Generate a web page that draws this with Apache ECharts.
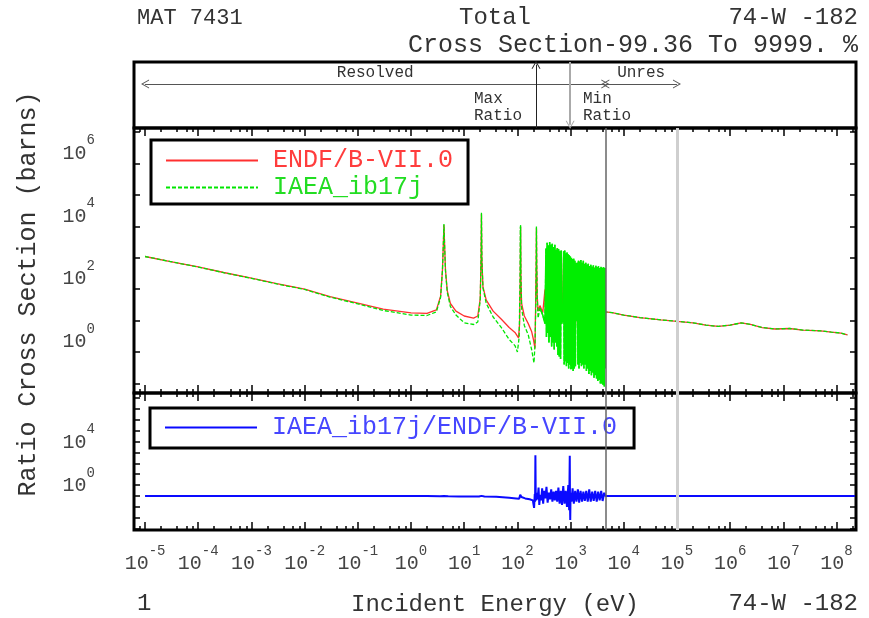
<!DOCTYPE html>
<html>
<head>
<meta charset="utf-8">
<title>MAT 7431 Total Cross Section</title>
<script src="https://cdn.jsdelivr.net/npm/echarts@6/dist/echarts.min.js"></script>
<style>
  html, body { margin: 0; padding: 0; background: #fff; }
  #chart { width: 869px; height: 618px; }
</style>
</head>
<body>
<div id="chart"></div>
<script>
// ---- data: [energy (eV), cross section (b)] ----
const endfThermal = [[1e-5, 1100], [3e-5, 760], [1e-4, 510], [3e-4, 340], [1e-3, 226], [3e-3, 150],
  [1e-2, 101], [3e-2, 58], [0.1, 36], [0.3, 23], [1, 17.5], [2, 17], [3, 22]]
const endfResonances = [[3.6, 60], [3.9, 400], [4.05, 2500], [4.16, 11000], [4.28, 2500], [4.45, 400],
  [4.8, 90], [5.5, 35], [7, 20], [10, 14], [15, 12], [18, 14], [20, 50], [20.7, 800], [21.1, 25000],
  [21.5, 900], [22.5, 120], [26, 45], [35, 20], [50, 11], [70, 6], [90, 4.2], [105, 2.8], [110, 8],
  [113, 200], [114.9, 10000], [116.5, 250], [120, 35], [135, 14], [160, 8], [185, 4.5], [200, 2.5],
  [214, 1.3], [220, 30], [225, 600], [228, 9000], [231, 600], [236, 60], [245, 20]]
const endfForest = [[265, 30], [300, 18], [330, 100], [338, 12], [350, 1500], [365, 6], [385, 2200],
  [405, 5], [430, 2000], [455, 4], [480, 1800], [505, 3], [530, 1500], [548, 3], [556, 2000], [565, 4],
  [600, 20], [700, 18], [740, 1300], [780, 1.5], [830, 1200], [880, 1], [940, 1000], [1000, 0.9],
  [1080, 900], [1160, 1], [1250, 10], [1300, 12], [1350, 700], [1420, 0.8], [1520, 800], [1620, 0.6],
  [1750, 700], [1880, 0.5], [2030, 600], [2200, 0.4], [2380, 550], [2560, 0.3], [2760, 500],
  [2980, 0.3], [3220, 480], [3480, 0.25], [3750, 450], [4050, 0.2], [4350, 420], [4500, 19]]
const endfFast = [[6000, 18], [1e4, 15], [2e4, 12.5], [5e4, 10.5], [1e5, 9.5], [2e5, 8.5], [3.5e5, 7.2],
  [6e5, 6.5], [1e6, 7.2], [1.6e6, 8.4], [2.4e6, 7.6], [4e6, 6], [7e6, 5.4], [1.3e7, 5.6], [2.3e7, 5],
  [5e7, 4.7], [8e7, 4.3], [1.2e8, 4], [1.6e8, 3.5]]

const iaeaThermal = [[1e-5, 1100], [3e-5, 760], [1e-4, 505], [3e-4, 336], [1e-3, 222], [3e-3, 147],
  [1e-2, 98], [3e-2, 56], [0.1, 34], [0.3, 21], [1, 15], [2, 14.5], [3, 19]]
const iaeaResonances = [[3.6, 55], [3.9, 400], [4.05, 2600], [4.16, 12000], [4.28, 2500], [4.45, 380],
  [4.8, 80], [5.5, 28], [7, 15], [10, 8.5], [15, 7.5], [18, 9], [20, 45], [20.7, 800], [21.1, 27000],
  [21.5, 900], [22.5, 110], [26, 35], [35, 13], [50, 6], [70, 2.5], [90, 1.6], [100, 1.0], [108, 3],
  [112, 200], [113.5, 10000], [114.2, 300], [114.9, 11000], [116.5, 250], [120, 25], [135, 7], [160, 3.5],
  [185, 1.2], [205, 0.45], [215, 2], [222, 40], [225.5, 700], [228, 10000], [231, 600], [236, 50],
  [245, 12]]
const iaeaForest = [[265, 25], [300, 15], [330, 8], [345, 2000], [352, 3], [362, 3000], [372, 4],
  [382, 2500], [392, 2], [404, 3200], [416, 3], [428, 2600], [440, 1.5], [452, 2800], [465, 2],
  [478, 2200], [492, 1.2], [506, 2600], [520, 2], [535, 1800], [550, 1.5], [565, 2000], [580, 0.8],
  [596, 1900], [612, 0.7], [630, 1600], [648, 0.6], [665, 1700], [685, 8], [700, 14], [725, 9],
  [740, 1600], [758, 0.4], [776, 1700], [795, 0.5], [815, 1400], [835, 0.35], [856, 1500], [877, 0.45],
  [899, 1300], [921, 0.3], [944, 1200], [967, 0.4], [990, 1100], [1014, 0.28], [1039, 1000],
  [1064, 0.3], [1090, 900], [1117, 0.25], [1145, 950], [1173, 0.3], [1202, 800], [1232, 0.35],
  [1262, 700], [1290, 10], [1320, 12], [1345, 700], [1375, 0.4], [1405, 800], [1440, 0.3], [1480, 750],
  [1520, 0.45], [1560, 850], [1600, 0.35], [1645, 700], [1690, 0.4], [1735, 800], [1780, 0.3],
  [1830, 650], [1880, 0.4], [1930, 700], [1985, 0.25], [2040, 600], [2095, 0.3], [2150, 650],
  [2210, 0.2], [2270, 550], [2330, 0.25], [2400, 600], [2465, 0.18], [2535, 520], [2605, 0.22],
  [2680, 580], [2755, 0.15], [2830, 480], [2910, 0.18], [2990, 560], [3075, 0.14], [3160, 500],
  [3250, 0.12], [3340, 540], [3430, 0.13], [3530, 470], [3630, 0.1], [3730, 520], [3840, 0.1],
  [3950, 480], [4060, 0.09], [4180, 500], [4300, 0.08], [4420, 470], [4490, 0.3], [4500, 19]]
const iaeaFast = [[6000, 18], [1e4, 15], [2e4, 12.5], [5e4, 10.5], [1e5, 9.5], [2e5, 8.5], [3.5e5, 7.2],
  [6e5, 6.5], [1e6, 7.2], [1.6e6, 8.4], [2.4e6, 7.6], [4e6, 6], [7e6, 5.4], [1.3e7, 5.6], [2.3e7, 5],
  [5e7, 4.7], [8e7, 4.3], [1.2e8, 4], [1.6e8, 3.5]]

// ratio IAEA / ENDF
const ratioLow = [[1e-5, 1], [0.5, 1], [2, 0.98], [3.5, 0.95], [4.16, 1.02], [5, 0.94], [8, 0.9],
  [12, 0.88], [19, 0.9], [21.1, 1.03], [24, 0.9], [40, 0.85], [70, 0.7], [95, 0.6], [108, 0.55],
  [113, 1.3], [115, 1], [119, 0.8], [140, 0.6], [170, 0.5], [195, 0.4]]
const ratioSpikes = [[206, 0.08], [212, 1.5], [215, 0.3], [218, 5500], [221, 1.2], [226, 0.4], [232, 2],
  [240, 0.5], [250, 6], [258, 0.15], [268, 1.3], [280, 0.4], [292, 5], [305, 0.2], [320, 3], [336, 0.6],
  [352, 7], [370, 0.25], [390, 2], [410, 0.5], [432, 4], [455, 0.3], [480, 2.5], [505, 0.4], [532, 3],
  [560, 0.3], [590, 6], [622, 0.2], [655, 3], [690, 0.15], [728, 8], [768, 0.2], [810, 3], [855, 0.1],
  [905, 10], [940, 0.05], [965, 4800], [975, 0.2], [985, 0.0064], [1000, 2]]
const ratioForest = [[1040, 0.3], [1090, 5], [1150, 0.2], [1220, 3], [1290, 0.3], [1370, 4], [1450, 0.25],
  [1540, 3], [1640, 0.3], [1740, 2.5], [1850, 0.35], [1970, 3], [2100, 0.3], [2240, 4], [2390, 0.3],
  [2550, 2.5], [2720, 0.35], [2900, 3], [3100, 0.3], [3300, 2.5], [3520, 0.4], [3760, 3], [4000, 0.35],
  [4280, 2], [4500, 1]]
const ratioFast = [[1e5, 1], [2.2e8, 1]]

// axis labels and range markers
const energyTickLabels = [1e-5, 1e-4, 1e-3, 1e-2, 1e-1, 1, 1e1, 1e2, 1e3, 1e4, 1e5, 1e6, 1e7, 1e8]
const xsTickLabels = [1, 1e2, 1e4, 1e6]
const ratioTickLabels = [1, 1e4]
const lowestEnergy = 1e-5
const resolvedEnd = 4500
const unresolvedEnd = 1e5
const maxRatioEnergy = 224
const minRatioEnergy = 980

const FONT = 'Liberation Mono'
const TXT = '#333333'
const X_MIN = 6.2e-6
const X_MAX = 2.32e8

function decades(lo, hi) {
  const a = []
  for (let p = lo; p <= hi; p++) a.push(Math.pow(10, p))
  return a
}
function minors(lo, hi) {
  const a = []
  for (let p = lo; p <= hi; p++) [2, 4, 6, 8].forEach(m => a.push(m * Math.pow(10, p)))
  return a
}

const richSup = {
  b: { fontFamily: FONT, fontSize: 20, color: '#444', verticalAlign: 'bottom', padding: [10, 0, 0, 0] },
  s: { fontFamily: FONT, fontSize: 14, color: '#444', verticalAlign: 'top' }
}
const powLabel = v => '{b|10}{s|' + Math.round(Math.log10(v)) + '}'

function xAx(grid, position, ticks, len, extra) {
  return Object.assign({
    type: 'log', logBase: 10, gridIndex: grid, position: position, min: X_MIN, max: X_MAX,
    axisLine: { show: false }, splitLine: { show: false },
    axisTick: { show: true, inside: true, length: len, customValues: ticks, lineStyle: { color: '#000', width: 1.5 } },
    axisLabel: { show: false }
  }, extra || {})
}
function yAx(grid, position, min, max, ticks, extra) {
  return Object.assign({
    type: 'log', logBase: 10, gridIndex: grid, position: position, min: min, max: max,
    axisLine: { show: false }, splitLine: { show: false },
    axisTick: { show: true, inside: true, length: 6, customValues: ticks, lineStyle: { color: '#000', width: 1.5 } },
    axisLabel: { show: false }
  }, extra || {})
}

const chevron = 'path://M0,10 L5,0 L10,10 L8.8,10 L5,2.4 L1.2,10 Z'

function boundaryLines() {
  return {
    silent: true, symbol: 'none', animation: false, label: { show: false },
    data: [
      { xAxis: lowestEnergy, lineStyle: { color: '#a0a0a0', width: 1, type: [6, 3, 1, 3] } },
      { xAxis: resolvedEnd, lineStyle: { color: '#666', width: 1.5, type: 'solid' } },
      { xAxis: unresolvedEnd, lineStyle: { color: '#cfcfcf', width: 3, type: 'solid' } }
    ]
  }
}

function label(text, x, y, size, align, vAlign, extra) {
  return {
    type: 'text', x: x, y: y,
    style: Object.assign({
      text: text, font: size + 'px "Liberation Mono"', fill: TXT,
      align: align, verticalAlign: vAlign, textAlign: align, textVerticalAlign: vAlign
    }, extra || {})
  }
}

const chart = echarts.init(document.getElementById('chart'))

const xMajor = decades(-5, 8)
const xMinor = minors(-6, 8)
const gridBase = { left: 134, right: 13, show: true, borderColor: '#000', borderWidth: 3, outerBoundsMode: 'none', containLabel: false }

const option = {
  animation: false,
  backgroundColor: '#fff',
  grid: [
    Object.assign({ top: 62, height: 66 }, gridBase),
    Object.assign({ top: 128, height: 265 }, gridBase),
    Object.assign({ top: 393, height: 137 }, gridBase)
  ],
  xAxis: [
    xAx(0, 'bottom', [], 0, { axisTick: { show: false } }),
    xAx(1, 'bottom', xMajor, 8),
    xAx(1, 'bottom', xMinor, 4),
    xAx(1, 'top', xMajor, 8),
    xAx(1, 'top', xMinor, 4),
    xAx(2, 'top', xMajor, 8),
    xAx(2, 'top', xMinor, 4),
    xAx(2, 'bottom', xMajor, 8, {
      axisLabel: { show: true, customValues: energyTickLabels, formatter: powLabel, rich: richSup, margin: 14 },
      name: 'Incident Energy (eV)', nameLocation: 'middle', nameGap: 63,
      nameTextStyle: { fontFamily: FONT, fontSize: 24, color: TXT }
    }),
    xAx(2, 'bottom', xMinor, 4)
  ],
  yAxis: [
    { type: 'value', gridIndex: 0, min: 0, max: 1, show: false },
    yAx(1, 'left', 0.0494, 1.36e7, decades(-1, 7), {
      axisLabel: { show: true, customValues: xsTickLabels, formatter: powLabel, rich: richSup,
        margin: 39, verticalAlign: 'bottom' }
    }),
    yAx(1, 'right', 0.0494, 1.36e7, decades(-1, 7)),
    yAx(2, 'left', 7.6e-4, 2.8e9, decades(-3, 9), {
      axisLabel: { show: true, customValues: ratioTickLabels, formatter: powLabel, rich: richSup,
        margin: 39, verticalAlign: 'bottom' }
    }),
    yAx(2, 'right', 7.6e-4, 2.8e9, decades(-3, 9))
  ],
  legend: [
    {
      data: [
        { name: 'ENDF/B-VII.0', textStyle: { color: '#ff3c3c' } },
        { name: 'IAEA_ib17j', textStyle: { color: '#22dd22' } }
      ],
      orient: 'vertical', left: 151, top: 140, itemWidth: 92, itemHeight: 14, itemGap: 2,
      padding: [8, 15, 4, 14], borderColor: '#000', borderWidth: 3, backgroundColor: '#fff',
      selectedMode: false, itemStyle: { opacity: 0 },
      textStyle: { fontFamily: FONT, fontSize: 25, lineHeight: 24, padding: [0, 0, 0, 10] }
    },
    {
      data: [{ name: 'IAEA_ib17j/ENDF/B-VII.0', textStyle: { color: '#4646ff' } }],
      orient: 'vertical', left: 150, top: 408, itemWidth: 92, itemHeight: 14,
      padding: [7, 17, 8, 14], borderColor: '#000', borderWidth: 3, backgroundColor: '#fff',
      selectedMode: false, itemStyle: { opacity: 0 },
      textStyle: { fontFamily: FONT, fontSize: 25, lineHeight: 24, padding: [0, 0, 0, 10] }
    }
  ],
  series: [
    {
      // range annotations in the top strip
      type: 'line', xAxisIndex: 0, yAxisIndex: 0, data: [], silent: true,
      markLine: {
        silent: true, animation: false, symbolSize: [9, 8],
        lineStyle: { color: '#555', width: 1, type: 'solid' },
        label: { show: false },
        data: [
          [
            { coord: [lowestEnergy, 0.667], symbol: chevron,
              label: { show: true, position: 'middle', formatter: 'Resolved', distance: 3,
                fontFamily: FONT, fontSize: 16, color: TXT } },
            { coord: [resolvedEnd, 0.667], symbol: chevron }
          ],
          [
            { coord: [resolvedEnd, 0.667], symbol: chevron,
              label: { show: true, position: 'middle', formatter: 'Unres', distance: 3,
                fontFamily: FONT, fontSize: 16, color: TXT } },
            { coord: [unresolvedEnd, 0.667], symbol: chevron }
          ],
          [
            { coord: [maxRatioEnergy, 0], symbol: 'none', lineStyle: { color: '#222', width: 1 } },
            { coord: [maxRatioEnergy, 0.96], symbol: chevron }
          ],
          [
            { coord: [minRatioEnergy, 1], symbol: 'none', lineStyle: { color: '#aaa', width: 2 } },
            { coord: [minRatioEnergy, 0.05], symbol: chevron }
          ]
        ]
      }
    },
    {
      name: 'ENDF/B-VII.0', type: 'line', xAxisIndex: 1, yAxisIndex: 1, symbol: 'none', z: 2,
      data: endfThermal.concat(endfResonances, endfForest, endfFast),
      lineStyle: { color: '#ff3030', width: 1.3 }, itemStyle: { color: '#ff3030' },
      markLine: boundaryLines()
    },
    {
      name: 'IAEA_ib17j', type: 'line', xAxisIndex: 1, yAxisIndex: 1, symbol: 'none', z: 3,
      data: iaeaThermal.concat(iaeaResonances, iaeaForest, iaeaFast),
      lineStyle: { color: '#00e600', width: 1.3, type: [4, 2] }, itemStyle: { color: '#00e600' }
    },
    {
      // the dense resonance forest reads as a solid band
      name: 'IAEA_ib17j', type: 'line', xAxisIndex: 1, yAxisIndex: 1, symbol: 'none', z: 3,
      data: iaeaForest,
      lineStyle: { color: '#00ee00', width: 1.6 }, itemStyle: { color: '#00e600' }
    },
    {
      name: 'IAEA_ib17j/ENDF/B-VII.0', type: 'line', xAxisIndex: 7, yAxisIndex: 3, symbol: 'none', z: 3,
      data: ratioLow.concat(ratioSpikes, ratioForest, ratioFast),
      lineStyle: { color: '#0a0aff', width: 2 }, itemStyle: { color: '#0a0aff' },
      markLine: boundaryLines()
    }
  ],
  graphic: [
    label('MAT 7431', 137, 18, 22, 'left', 'middle'),
    label('Total', 495, 18, 24, 'center', 'middle'),
    label('74-W -182', 858, 18, 24, 'right', 'middle'),
    label('Cross Section-99.36 To 9999. %', 858, 45, 25, 'right', 'middle'),
    label('Max\nRatio', 474, 90, 16, 'left', 'top', { lineHeight: 17 }),
    label('Min\nRatio', 583, 90, 16, 'left', 'top', { lineHeight: 17 }),
    Object.assign(label('Ratio Cross Section (barns)', 28, 294, 25, 'center', 'middle'), { rotation: Math.PI / 2 }),
    label('1', 137, 604, 24, 'left', 'middle'),
    label('74-W -182', 858, 604, 24, 'right', 'middle')
  ]
}

chart.setOption(option)
</script>
</body>
</html>
